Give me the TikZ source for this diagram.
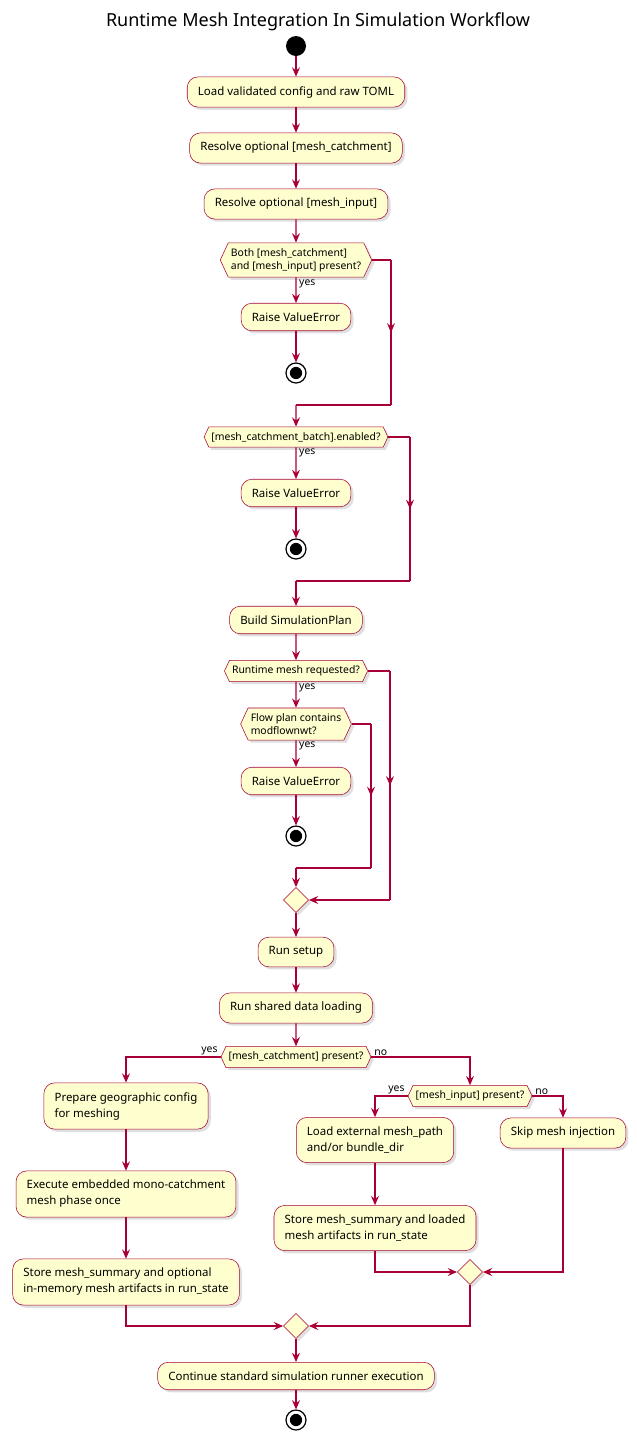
\documentclass[tikz,border=0pt]{standalone}
\usepackage{fontspec}
\setmainfont{Noto Sans}
\usetikzlibrary{shapes.geometric, shapes.symbols, arrows.meta, positioning, shadows, decorations.markings}
\definecolor{umlred}{HTML}{A80036}
\definecolor{umlfill}{HTML}{FEFECE}
\tikzset{
  act/.style={draw=umlred, fill=umlfill, rounded corners=8pt, inner xsep=8pt, inner ysep=7pt,
    align=left, font=\fontsize{8.6}{12}\selectfont, drop shadow={opacity=0.25, shadow xshift=2pt, shadow yshift=-2pt}},
  cond/.style={draw=umlred, fill=umlfill, signal, signal to=west and east, signal pointer angle=130,
    inner xsep=2pt, inner ysep=4pt, align=left, font=\fontsize{7.8}{10}\selectfont,
    drop shadow={opacity=0.25, shadow xshift=2pt, shadow yshift=-2pt}},
  merge/.style={draw=umlred, fill=umlfill, diamond, minimum size=19pt, inner sep=0pt,
    drop shadow={opacity=0.25, shadow xshift=2pt, shadow yshift=-2pt}},
  startnode/.style={circle, fill=black, minimum size=15pt, inner sep=0pt},
  stopnode/.style={circle, draw=black, line width=0.9pt, fill=white, minimum size=15pt, inner sep=0pt,
    path picture={\fill[black] (path picture bounding box.center) circle (4.6pt);}},
  flow/.style={draw=umlred, line width=0.8pt, -{Stealth[length=7pt,width=6pt,inset=2.5pt]}},
  line/.style={draw=umlred, line width=0.8pt},
  midarrow/.style={line, postaction={decorate}, decoration={markings,
    mark=at position 0.5 with {\arrow[umlred]{Stealth[length=7pt,width=6pt,inset=2.5pt]}}}},
  guard/.style={font=\fontsize{7.8}{10}\selectfont, inner sep=1pt}
}
\begin{document}
\begin{tikzpicture}[x=0.75pt, y=-0.75pt]
    \useasboundingbox (0,0) rectangle (636,1446);
    \node (title) at (318,22) {\fontsize{13.5}{16}\selectfont Runtime Mesh Integration In Simulation Workflow};

    % main line
    \node (start)[startnode] at (296,46) {};
    \node (load)[act] at (296,92) {Load validated config and raw TOML};
    \node (resolveC)[act] at (296,148) {Resolve optional [mesh\_catchment]};
    \node (resolveI)[act] at (296,204) {Resolve optional [mesh\_input]};
    \node (bothQ)[cond] at (296,260) {Both [mesh\_catchment]\\and [mesh\_input] present?};
    \node (err1)[act] at (296,317) {Raise ValueError};
    \node (stop1)[stopnode] at (296,373) {};
    \node (batchQ)[cond] at (296,437) {[mesh\_catchment\_batch].enabled?};
    \node (err2)[act] at (296,493) {Raise ValueError};
    \node (stop2)[stopnode] at (296,549) {};
    \node (plan)[act] at (296,620) {Build SimulationPlan};
    \node (meshQ)[cond] at (296,671) {Runtime mesh requested?};
    \node (flowQ)[cond] at (296,724) {Flow plan contains\\modflownwt?};
    \node (err3)[act] at (296,781) {Raise ValueError};
    \node (stop3)[stopnode] at (296,836) {};
    \node (mergeA)[merge] at (296,900) {};
    \node (setup)[act] at (296,952) {Run setup};
    \node (shared)[act] at (296,1008) {Run shared data loading};
    \node (catchQ)[cond] at (296,1057) {[mesh\_catchment] present?};

    % catchment branch
    \node (prep)[act] at (126,1106) {Prepare geographic config\\for meshing};
    \node (exec)[act] at (126,1194) {Execute embedded mono-catchment\\mesh phase once};
    \node (storeC)[act] at (126,1282) {Store mesh\_summary and optional\\in-memory mesh artifacts in run\_state};

    % input branch
    \node (inputQ)[cond] at (470,1096) {[mesh\_input] present?};
    \node (loadExt)[act] at (375,1140) {Load external mesh\_path\\and/or bundle\_dir};
    \node (skip)[act] at (563,1133) {Skip mesh injection};
    \node (storeI)[act] at (375,1228) {Store mesh\_summary and loaded\\mesh artifacts in run\_state};
    \node (mergeB)[merge] at (470,1272) {};
    \node (mergeC)[merge] at (296,1326) {};
    \node (cont)[act] at (296,1376) {Continue standard simulation runner execution};
    \node (stopEnd)[stopnode] at (296,1420) {};

    \coordinate (j1a) at (391,260);
    \coordinate (j1b) at (391,405);
    \coordinate (j1c) at (296,405);
    \coordinate (j2a) at (410,437);
    \coordinate (j2b) at (410,581);
    \coordinate (j2c) at (296,581);
    \coordinate (j3a) at (371,724);
    \coordinate (j3b) at (371,868);
    \coordinate (j3c) at (296,868);
    \coordinate (j4a) at (390,671);
    \coordinate (j4b) at (390,900);

    \draw[flow] (start) -- (load);
    \draw[flow] (load) -- (resolveC);
    \draw[flow] (resolveC) -- (resolveI);
    \draw[flow] (resolveI) -- (bothQ);
    \draw[flow] (bothQ) -- (err1) node[guard, pos=0, anchor=north west, xshift=1pt] {yes};
    \draw[flow] (err1) -- (stop1);
    \draw[line] (bothQ.east) -- (j1a);
    \draw[midarrow] (j1a) -- (j1b);
    \draw[line] (j1b) -- (j1c);
    \draw[flow] (j1c) -- (batchQ);

    \draw[flow] (batchQ) -- (err2) node[guard, pos=0, anchor=north west, xshift=1pt] {yes};
    \draw[flow] (err2) -- (stop2);
    \draw[line] (batchQ.east) -- (j2a);
    \draw[midarrow] (j2a) -- (j2b);
    \draw[line] (j2b) -- (j2c);
    \draw[flow] (j2c) -- (plan);

    \draw[flow] (plan) -- (meshQ);
    \draw[flow] (meshQ) -- (flowQ) node[guard, pos=0, anchor=north west, xshift=1pt] {yes};
    \draw[flow] (flowQ) -- (err3) node[guard, pos=0, anchor=north west, xshift=1pt] {yes};
    \draw[flow] (err3) -- (stop3);
    \draw[line] (flowQ.east) -- (j3a);
    \draw[midarrow] (j3a) -- (j3b);
    \draw[line] (j3b) -- (j3c);
    \draw[flow] (j3c) -- (mergeA);
    \draw[line] (meshQ.east) -- (j4a);
    \draw[midarrow] (j4a) -- (j4b);
    \draw[flow] (j4b) -- (mergeA.east);

    \draw[flow] (mergeA) -- (setup);
    \draw[flow] (setup) -- (shared);
    \draw[flow] (shared) -- (catchQ);
    \draw[flow] (catchQ.west) -| (prep) node[guard, pos=0, anchor=south east, xshift=-1pt] {yes};
    \draw[flow] (catchQ.east) -| (inputQ) node[guard, pos=0, anchor=south west, xshift=1pt] {no};
    \draw[flow] (prep) -- (exec);
    \draw[flow] (exec) -- (storeC);
    \draw[flow] (storeC.south) |- (mergeC.west);

    \draw[flow] (inputQ.west) -| (loadExt) node[guard, pos=0, anchor=south east, xshift=-1pt] {yes};
    \draw[flow] (inputQ.east) -| (skip) node[guard, pos=0, anchor=south west, xshift=1pt] {no};
    \draw[flow] (loadExt) -- (storeI);
    \draw[flow] (storeI.south) |- (mergeB.west);
    \draw[flow] (skip.south) |- (mergeB.east);
    \draw[flow] (mergeB.south) |- (mergeC.east);
    \draw[flow] (mergeC) -- (cont);
    \draw[flow] (cont) -- (stopEnd);
\end{tikzpicture}
\end{document}
